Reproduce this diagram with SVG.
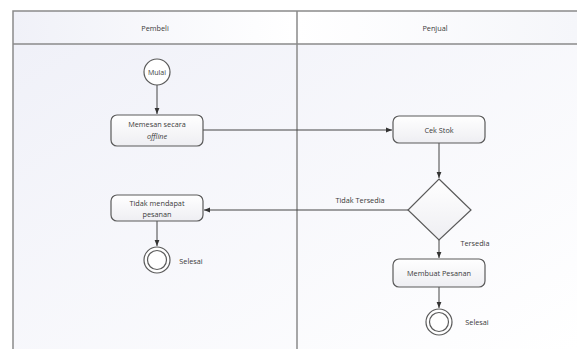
<svg xmlns="http://www.w3.org/2000/svg" width="577" height="349" viewBox="0 0 577 349">
<style>
text{font-family:"Open Sans","Liberation Sans",sans-serif;font-size:7.3px;fill:#3a3a3a;text-anchor:middle;dominant-baseline:central}
.frame{fill:none;stroke:#8a8a8a;stroke-width:1.5}
.node{fill:url(#ng);stroke:#5a5a5a;stroke-width:1.2}
.circ{fill:#fff;stroke:#5a5a5a;stroke-width:1.2}
.conn{fill:none;stroke:#444;stroke-width:1}
</style>
<defs>
<linearGradient id="lg" x1="0" y1="0" x2="1" y2="1">
<stop offset="0" stop-color="#eff0f8"/><stop offset="1" stop-color="#ffffff"/>
</linearGradient>
<linearGradient id="hg" x1="0" y1="0" x2="1" y2="0">
<stop offset="0" stop-color="#f0f1f8"/><stop offset="0.5" stop-color="#ffffff"/><stop offset="1" stop-color="#f5f6fa"/>
</linearGradient>
<linearGradient id="ng" x1="0" y1="0" x2="0" y2="1">
<stop offset="0" stop-color="#ffffff"/><stop offset="1" stop-color="#eeeef2"/>
</linearGradient>
<marker id="ah" viewBox="0 0 10 10" refX="10" refY="5" markerWidth="6" markerHeight="6" orient="auto">
<path d="M0,1 L10,5 L0,9 z" fill="#333"/>
</marker>
</defs>
<rect x="0" y="0" width="577" height="349" fill="#fff"/>
<g id="lanes">
<rect x="13" y="11" width="564" height="338" fill="url(#lg)"/>
<rect x="13" y="11" width="564" height="33" fill="url(#hg)"/>
<path class="frame" d="M13,349 V11 H577 M13,44 H577 M297,11 V349"/>
<text x="155" y="28">Pembeli</text>
<text x="435" y="28">Penjual</text>
</g>
<g id="connectors">
<path class="conn" d="M157,85 V114" marker-end="url(#ah)"/>
<path class="conn" d="M203,130 H392" marker-end="url(#ah)"/>
<path class="conn" d="M439,143 V178" marker-end="url(#ah)"/>
<path class="conn" d="M408,210 H204" marker-end="url(#ah)"/>
<path class="conn" d="M439,240 V258" marker-end="url(#ah)"/>
<path class="conn" d="M157,221 V246" marker-end="url(#ah)"/>
<path class="conn" d="M439,287 V308" marker-end="url(#ah)"/>
<text x="360" y="200">Tidak Tersedia</text>
<text x="475" y="243">Tersedia</text>
</g>
<g id="mulai">
<circle class="circ" cx="157" cy="72" r="13"/>
<text x="157" y="72" style="font-size:7px">Mulai</text>
</g>
<g id="memesan">
<rect class="node" x="111" y="115" width="92" height="31" rx="6"/>
<text x="157" y="124">Memesan secara</text>
<text x="157" y="136" font-style="italic">offline</text>
</g>
<g id="cekstok">
<rect class="node" x="393" y="116" width="92" height="27" rx="6"/>
<text x="439" y="129.5">Cek Stok</text>
</g>
<g id="decision">
<path class="node" d="M439,179 L471,210 L439,240 L408,210 z"/>
</g>
<g id="tidakmendapat">
<rect class="node" x="111" y="195" width="92" height="26" rx="6"/>
<text x="157" y="203">Tidak mendapat</text>
<text x="157" y="214">pesanan</text>
</g>
<g id="selesai1">
<circle class="circ" cx="157" cy="260" r="13"/>
<circle class="circ" cx="157" cy="260" r="9.5"/>
<text x="191" y="261">Selesai</text>
</g>
<g id="membuat">
<rect class="node" x="393" y="259" width="92" height="28" rx="6"/>
<text x="439" y="273">Membuat Pesanan</text>
</g>
<g id="selesai2">
<circle class="circ" cx="439" cy="322" r="13"/>
<circle class="circ" cx="439" cy="322" r="9.5"/>
<text x="477" y="322">Selesai</text>
</g>
</svg>
